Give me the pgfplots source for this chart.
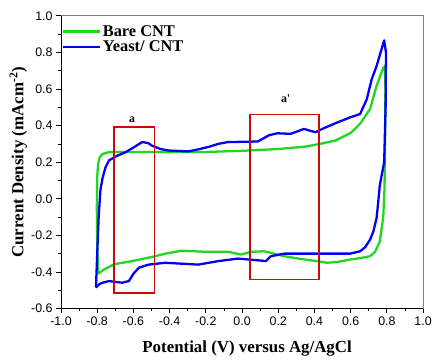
\documentclass[border=0pt]{standalone}
\usepackage{pgfplots}
\pgfplotsset{compat=1.18}
\usepackage{fontspec}
\setmainfont{Liberation Serif}
\newfontfamily\ticksans{Liberation Sans}
\definecolor{cvgreen}{RGB}{30,215,30}
\definecolor{cvblue}{RGB}{0,0,250}
\definecolor{boxred}{RGB}{205,10,10}
\newcommand{\legfont}{\fontsize{16.5}{18}\selectfont\bfseries}
\begin{document}
\begin{tikzpicture}
\begin{axis}[name=ax,
  scale only axis, width=365pt, height=295pt,
  xmin=-1, xmax=1, ymin=-0.6, ymax=1.0,
  axis x line*=bottom, axis y line*=left,
  axis line style={line width=0.9pt,-},
  xtick={-1,-0.8,-0.6,-0.4,-0.2,0,0.2,0.4,0.6,0.8,1},
  ytick={-0.6,-0.4,-0.2,0,0.2,0.4,0.6,0.8,1},
  minor tick num=1,
  tick align=outside, major tick length=5pt, minor tick length=3pt,
  tick style={black, line width=0.8pt},
  /pgf/number format/assume math mode=true,
  /pgf/number format/fixed, /pgf/number format/fixed zerofill, /pgf/number format/precision=1,
  ticklabel style={font=\ticksans\fontsize{12.5}{14}\selectfont},
  xlabel={Potential (V) versus Ag/AgCl},
  ylabel={Current Density (mAcm\textsuperscript{-2})},
  xlabel style={at={(axis description cs:0.514,-0.135)}, anchor=center, font=\fontsize{17}{19}\selectfont\bfseries},
  ylabel style={at={(axis description cs:-0.118,0.5)}, anchor=center, font=\fontsize{17}{19}\selectfont\bfseries},
  legend style={at={(axis description cs:0.002,0.972)}, anchor=north west, draw=none, fill=none,
     inner xsep=0pt, inner ysep=0pt, row sep=1pt,
     nodes={inner xsep=2pt, inner ysep=1pt}},
  legend cell align=left,
  legend image code/.code={\draw[#1] (0pt,0pt) -- (37pt,0pt);},
  line join=round,
]
\addplot[cvgreen, line width=2.3pt] coordinates {
(-0.795,-0.41) (-0.800,-0.25) (-0.802,-0.05) (-0.800,0.12) (-0.795,0.19) (-0.787,0.225)
(-0.771,0.245) (-0.735,0.255) (-0.6,0.256) (-0.4,0.255) (-0.2,0.256) (0,0.262)
(0.2,0.272) (0.35,0.285) (0.43,0.30) (0.515,0.318) (0.6,0.36) (0.652,0.41)
(0.707,0.49) (0.743,0.617) (0.78,0.716) (0.79,0.725) (0.792,0.6) (0.790,0.3)
(0.787,0.056) (0.78,-0.1) (0.761,-0.233) (0.735,-0.29) (0.707,-0.314) (0.65,-0.325)
(0.597,-0.332) (0.53,-0.345) (0.47,-0.35) (0.415,-0.341) (0.33,-0.33) (0.233,-0.314)
(0.123,-0.287) (0.05,-0.29) (-0.005,-0.305) (-0.078,-0.29) (-0.2,-0.29) (-0.333,-0.284)
(-0.424,-0.30) (-0.479,-0.314) (-0.607,-0.341) (-0.69,-0.355) (-0.716,-0.363)
(-0.76,-0.385) (-0.795,-0.41)
};
\addlegendentry{\legfont Bare CNT}
\addplot[cvblue, line width=2.3pt] coordinates {
(-0.807,-0.486) (-0.800,-0.3) (-0.792,-0.1) (-0.782,0.05) (-0.771,0.11) (-0.755,0.17)
(-0.735,0.21) (-0.69,0.235) (-0.643,0.255) (-0.6,0.28) (-0.552,0.31) (-0.52,0.305)
(-0.497,0.29) (-0.45,0.272) (-0.406,0.264) (-0.297,0.259) (-0.242,0.27) (-0.18,0.285)
(-0.132,0.30) (-0.078,0.31) (0.087,0.313) (0.114,0.328) (0.15,0.348) (0.196,0.358)
(0.269,0.355) (0.342,0.382) (0.375,0.372) (0.406,0.364) (0.45,0.385) (0.506,0.409)
(0.597,0.445) (0.652,0.463) (0.689,0.544) (0.716,0.653) (0.743,0.725) (0.785,0.866)
(0.795,0.80) (0.793,0.5) (0.785,0.2) (0.761,0.074) (0.752,-0.02) (0.743,-0.106)
(0.725,-0.18) (0.707,-0.224) (0.68,-0.265) (0.652,-0.287) (0.597,-0.30) (0.415,-0.30)
(0.233,-0.30) (0.159,-0.314) (0.132,-0.341) (0.105,-0.338) (-0.023,-0.327) (-0.132,-0.341)
(-0.242,-0.36) (-0.315,-0.356) (-0.424,-0.35) (-0.516,-0.36) (-0.57,-0.377) (-0.6,-0.41)
(-0.625,-0.45) (-0.662,-0.459) (-0.735,-0.45) (-0.775,-0.46) (-0.789,-0.468) (-0.807,-0.486)
};
\addlegendentry{\legfont Yeast/ CNT}
\addplot[boxred, line width=1.8pt, line join=miter, forget plot] coordinates {
(-0.707,-0.517) (-0.484,-0.517) (-0.484,0.393) (-0.707,0.393) (-0.707,-0.517) (-0.484,-0.517)};
\addplot[boxred, line width=1.8pt, line join=miter, forget plot] coordinates {
(0.044,-0.441) (0.424,-0.441) (0.424,0.461) (0.044,0.461) (0.044,-0.441) (0.424,-0.441)};
\node[font=\fontsize{12}{14}\selectfont\bfseries] at (axis cs:-0.607,0.43) {a};
\node[font=\fontsize{12}{14}\selectfont\bfseries] at (axis cs:0.241,0.545) {a\textquotesingle};
\end{axis}
\draw[gray, line width=0.8pt] (ax.north west) -- (ax.north east) -- (ax.south east);
\path ([shift={(-61.5pt,-47pt)}]ax.south west) rectangle ([shift={(8.3pt,16pt)}]ax.north east);
\end{tikzpicture}
\end{document}
